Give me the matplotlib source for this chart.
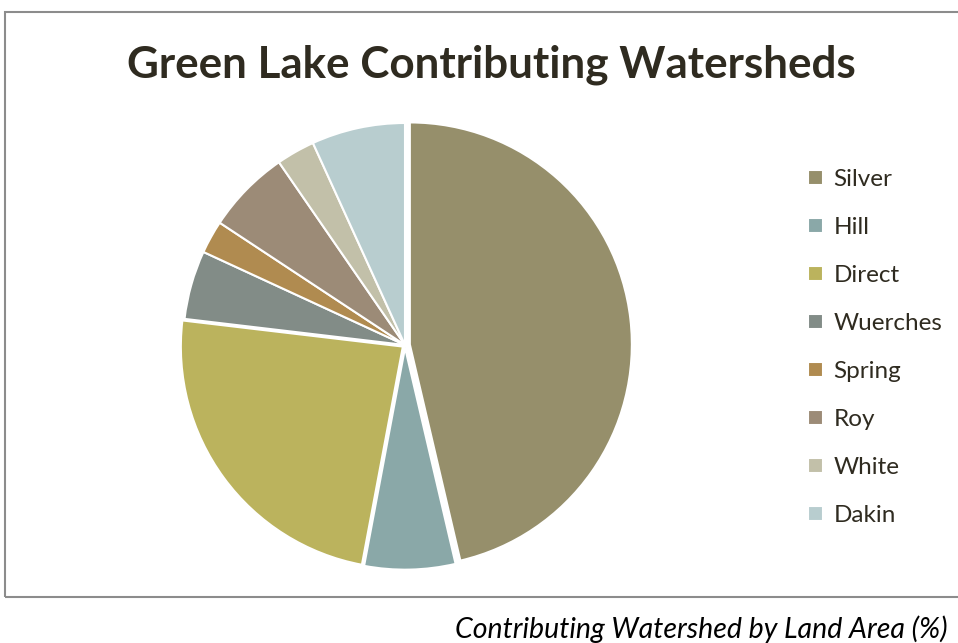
import matplotlib.pyplot as plt
from matplotlib.patches import Rectangle

# watershed shares of land area (%), clockwise from 12 o'clock
names = ["Silver", "Hill", "Direct", "Wuerches", "Spring", "Roy", "White", "Dakin"]
share = [46.3, 6.6, 23.9, 5.0, 2.4, 6.1, 2.8, 6.8]
explode = [0.022, 0.012, 0.012, 0, 0, 0, 0, 0]
colors = ["#968F6B", "#8AA8A8", "#BBB35D", "#828C87",
          "#B08B50", "#9C8B77", "#C2C0A9", "#B8CDCF"]

ink = "#2F2B20"
plt.rcParams["font.family"] = ["Lato", "DejaVu Sans"]

W, H = 958, 643
fig = plt.figure(figsize=(W / 100, H / 100), dpi=100)

# frame around the chart area (runs off the right side)
fig.patches.append(Rectangle((5 / W, 1 - 597 / H), 1.2, (597 - 12) / H,
                             transform=fig.transFigure, fill=False,
                             edgecolor="#8C8C8C", linewidth=1.5))

cx, cy, r = 405, 345, 222
ax = fig.add_axes([(cx - r) / W, (H - cy - r) / H, 2 * r / W, 2 * r / H])
wedges, _ = ax.pie(share, colors=colors, startangle=90, counterclock=False,
                   explode=explode, radius=1,
                   wedgeprops=dict(edgecolor="white", linewidth=1.5))
for w in wedges:
    w.set_clip_on(False)
ax.set_xlim(-1, 1)
ax.set_ylim(-1, 1)
ax.axis("off")

fig.text(491 / W, 1 - 65 / H, "Green Lake Contributing Watersheds",
         ha="center", va="center", fontsize=31.7, fontweight="bold", color=ink)

fig.legend(wedges, names, loc="upper left",
           bbox_to_anchor=(808 / W, 1 - 169 / H), frameon=False,
           fontsize=17.5, labelcolor=ink, handlelength=0.6, handleheight=0.6,
           handletextpad=0.45, labelspacing=1.11, borderpad=0, borderaxespad=0)

fig.text(948 / W, 1 - 629 / H, "Contributing Watershed by Land Area (%)",
         ha="right", va="center", fontsize=20.5, fontstyle="italic", color="black")

fig.savefig("out.png", dpi=100)
